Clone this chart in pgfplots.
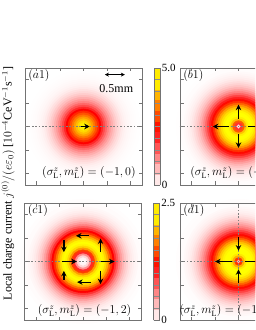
\documentclass[border=0pt]{standalone}
\usepackage{fontspec}
\setmainfont{Liberation Serif}
\usepackage{pgfplots}
\pgfplotsset{compat=1.18}
\usetikzlibrary{arrows.meta}

\pgfplotsset{
  colormap={heat}{rgb255=(255,255,255) rgb255=(255,0,0) rgb255=(255,255,0)},
  colormap={heatsteps}{rgb255=(255,232,232) rgb255=(255,185,185) rgb255=(255,135,135) rgb255=(255,85,85) rgb255=(255,35,35) rgb255=(255,20,0) rgb255=(255,75,0) rgb255=(255,128,0) rgb255=(255,180,0) rgb255=(255,235,0) rgb255=(255,235,0)},
  panel/.style={
    scale only axis, width=117pt, height=117pt,
    xmin=-1.5, xmax=1.5, ymin=-1.5, ymax=1.5,
    xtick={-1.2,-0.6,0,0.6,1.2}, ytick={-1.2,-0.6,0,0.6,1.2},
    xticklabels={}, yticklabels={},
    tick align=inside, major tick length=3.5pt,
    axis line style={draw=black!55, line width=0.7pt},
    tick style={draw=black!55, line width=0.7pt},
    colormap name=heat,
  },
  rings/.style={scatter, only marks, mark=*, scatter src=explicit,
    scatter/use mapped color={draw=mapped color, fill=mapped color},
    visualization depends on={39*\thisrow{r} \as \rad},
    scatter/@pre marker code/.append style={/tikz/mark size=\rad, /tikz/line width=0.3pt}},
  guide/.style={draw=black!50, line width=1.7pt, dash pattern=on 1.7pt off 1.7pt},
  flow/.style={black, line width=1.3pt, -{Stealth[length=5.5pt,width=5.5pt]}},
  cbar/.style={colorbar, colorbar style={
    at={(parent axis.north east)}, anchor=north west, xshift=3.7pt,
    width=6pt,
    colormap name=heatsteps, colormap access=piecewise constant,
    ytick={0,#1}, yticklabels={0,#1}, yticklabel pos=right,
    major tick length=0pt,
    minor y tick num=9, yminorgrids, minor tick length=0pt,
    minor grid style={draw=black!45, line width=0.5pt},
    axis line style={draw=black!55, line width=0.7pt},
    yticklabel style={font=\fontsize{11}{13}\selectfont, inner sep=1.5pt},
  }},
}

\begin{document}
\begin{tikzpicture}[font=\fontsize{12}{14}\selectfont]
\useasboundingbox (0,0) rectangle (255pt,330pt);
\clip (0,0) rectangle (255pt,330pt);

% ---------- (a1) intensity
\begin{axis}[panel, hide axis, at={(25pt,145pt)}, anchor=south west,
  point meta min=0, point meta max=5]
\addplot[rings] table[x expr=0, y expr=0, meta=v] {
r v
1.45 0.008
1.40 0.012
1.35 0.018
1.30 0.026
1.25 0.038
1.20 0.055
1.15 0.08
1.10 0.11
1.05 0.15
1.00 0.21
0.95 0.29
0.90 0.38
0.85 0.50
0.80 0.64
0.75 0.80
0.70 0.99
0.65 1.20
0.60 1.47
0.55 1.77
0.50 2.12
0.45 2.50
0.40 2.89
0.35 3.29
0.30 3.67
0.25 4.04
0.20 4.36
0.15 4.63
0.10 4.83
0.05 4.96
};
\end{axis}
% (a1) frame, guides, arrows
\begin{axis}[panel, at={(25pt,145pt)}, anchor=south west,
  point meta min=0, point meta max=5, cbar=5.0]
\addplot[guide] coordinates {(-1.5,0) (1.5,0)};
\addplot[flow, quiver={u=\thisrow{u},v=\thisrow{v}}] table {
x y u v
-0.06 0 0.22 0
};
\addplot[black, line width=0.8pt, {Stealth[length=4pt,width=4pt]}-{Stealth[length=4pt,width=4pt]}] coordinates {(0.55,1.33) (1.06,1.33)};
\node[anchor=west, inner sep=0pt, font=\fontsize{13}{15}\selectfont] at (axis cs:-1.42,1.31) {$(a1)$};
\node at (axis cs:0.84,0.97) {0.5mm};
\node at (axis cs:0.14,-1.18) {$(\sigma^z_{\mathrm{L}}, m^z_{\mathrm{L}}) = (-1, 0)$};
\end{axis}

% ---------- (b1)
\begin{axis}[panel, hide axis, at={(180pt,145pt)}, anchor=south west,
  point meta min=0, point meta max=5]
\addplot[rings] table[x expr=0, y expr=0, meta=v] {
r v
1.60 0.01
1.50 0.03
1.40 0.06
1.35 0.09
1.30 0.13
1.25 0.18
1.20 0.25
1.15 0.34
1.10 0.45
1.05 0.58
1.00 0.75
0.95 0.95
0.90 1.20
0.85 1.50
0.80 1.85
0.75 2.20
0.70 2.60
0.65 3.00
0.60 3.50
0.55 4.00
0.50 4.40
0.45 4.70
0.40 4.90
0.35 5.00
0.30 5.00
0.25 4.85
0.20 4.40
0.15 3.40
0.10 2.00
0.05 0.80
0.025 0.20
};
\end{axis}
\begin{axis}[panel, at={(180pt,145pt)}, anchor=south west]
\addplot[guide] coordinates {(-1.5,0) (1.5,0)};
\addplot[flow, quiver={u=\thisrow{u},v=\thisrow{v}}] table {
x y u v
0 0.20 0 0.36
0 -0.20 0 -0.35
-0.25 0 -0.41 0
0.25 0 0.41 0
};
\node[anchor=west, inner sep=0pt, font=\fontsize{13}{15}\selectfont] at (axis cs:-1.42,1.31) {$(b1)$};
\node[anchor=west, inner sep=0pt] at (axis cs:-1.24,-1.18) {$(\sigma^z_{\mathrm{L}}, m^z_{\mathrm{L}}) = (-1, 1)$};
\end{axis}

% ---------- (c1)
\begin{axis}[panel, hide axis, at={(24.5pt,10pt)}, anchor=south west,
  point meta min=0, point meta max=2.5]
\addplot[rings] table[x expr=0, y expr=0, meta=v] {
r v
1.60 0.01
1.50 0.02
1.40 0.04
1.35 0.055
1.30 0.08
1.25 0.11
1.20 0.15
1.15 0.21
1.10 0.28
1.05 0.37
1.00 0.48
0.95 0.62
0.90 0.80
0.85 1.00
0.80 1.25
0.75 1.50
0.70 1.80
0.65 2.10
0.60 2.30
0.55 2.45
0.50 2.50
0.45 2.45
0.40 2.30
0.35 2.00
0.30 1.55
0.25 1.05
0.20 0.55
0.15 0.20
0.10 0.05
0.05 0.01
};
\end{axis}
\begin{axis}[panel, at={(24.5pt,10pt)}, anchor=south west,
  point meta min=0, point meta max=2.5, cbar=2.5]
\addplot[guide] coordinates {(-1.5,0) (1.5,0)};
\addplot[flow, quiver={u=\thisrow{u},v=\thisrow{v}}] table {
x y u v
-0.49 0.56 0 -0.32
-0.49 -0.47 0 0.23
0.45 0.24 0 0.35
0.45 -0.24 0 -0.34
0.15 0.66 -0.33 0
0.20 -0.53 -0.35 0
-0.55 0 0.39 0
0.46 0 0.35 0
};
\node[anchor=west, inner sep=0pt, font=\fontsize{13}{15}\selectfont] at (axis cs:-1.42,1.31) {$(c1)$};
\node at (axis cs:0.04,-1.26) {$(\sigma^z_{\mathrm{L}}, m^z_{\mathrm{L}}) = (-1, 2)$};
\end{axis}

% ---------- (d1)
\begin{axis}[panel, hide axis, at={(180pt,10pt)}, anchor=south west,
  point meta min=0, point meta max=2.5]
\addplot[rings] table[x expr=0, y expr=0, meta=v] {
r v
1.60 0.008
1.50 0.017
1.40 0.035
1.35 0.05
1.30 0.07
1.25 0.095
1.20 0.13
1.15 0.18
1.10 0.24
1.05 0.31
1.00 0.40
0.95 0.50
0.90 0.62
0.85 0.76
0.80 0.92
0.75 1.10
0.70 1.30
0.65 1.50
0.60 1.75
0.55 2.00
0.50 2.20
0.45 2.35
0.40 2.45
0.35 2.50
0.30 2.50
0.25 2.50
0.20 2.40
0.15 2.10
0.10 1.50
0.05 0.80
0.025 0.30
};
\end{axis}
\begin{axis}[panel, at={(180pt,10pt)}, anchor=south west]
\addplot[guide] coordinates {(-1.5,0) (1.5,0)};
\addplot[guide] coordinates {(0,-1.5) (0,1.5)};
\addplot[flow, quiver={u=\thisrow{u},v=\thisrow{v}}] table {
x y u v
0 0.62 0 -0.34
0 -0.55 0 0.35
-0.17 0 -0.43 0
0.17 0 0.43 0
};
\node[anchor=west, inner sep=0pt, font=\fontsize{13}{15}\selectfont] at (axis cs:-1.42,1.31) {$(d1)$};
\node[anchor=west, inner sep=0pt] at (axis cs:-1.52,-1.26) {$(\sigma^z_{\mathrm{L}}, m^z_{\mathrm{L}}) = (-1, -2)$};
\end{axis}

\node[rotate=90] at (8pt,146.5pt) {Local charge current $j^{(0)}/(e\varepsilon_0)$ [$10^{-4}$CeV$^{-1}$s$^{-1}$]};
\end{tikzpicture}
\end{document}
